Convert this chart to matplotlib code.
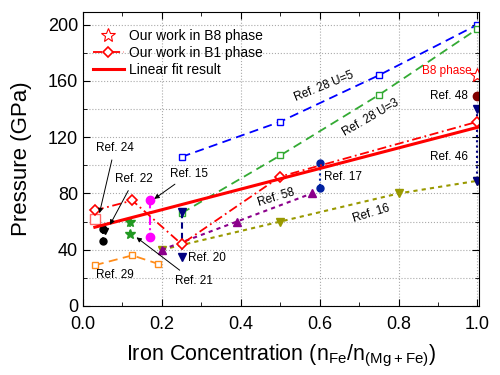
import matplotlib
matplotlib.use("Agg")
import matplotlib.pyplot as plt
from matplotlib.ticker import MultipleLocator

plt.rcParams['font.family'] = ['Liberation Sans', 'DejaVu Sans']
plt.rcParams['mathtext.fontset'] = 'custom'
plt.rcParams['mathtext.rm'] = 'Liberation Sans'

# ---- data ----
ref28u5_x = [0.25, 0.5, 0.75, 1.0]
ref28u5_y = [106, 131, 164, 200]
ref28u3_x = [0.25, 0.5, 0.75, 1.0]
ref28u3_y = [66, 107, 150, 197]
fit_x = [0.03, 1.0]
fit_y = [56, 127]
b1_x = [0.03, 0.125, 0.25, 0.5, 1.0]
b1_y = [68, 75, 44, 92, 131]
b8_x = [1.0]
b8_y = [164]
ref48_x = [1.0]
ref48_y = [149]
ref46_x = [1.0, 1.0]
ref46_y = [140, 89]
ref17_x = [0.6, 0.6]
ref17_y = [102, 84]
ref58_x = [0.2, 0.39, 0.58]
ref58_y = [40, 60, 80]
ref16_x = [0.2, 0.5, 0.8, 1.0]
ref16_y = [40, 60, 80, 89]
ref20_x = [0.25, 0.25]
ref20_y = [67, 35]
ref15_x = [0.17, 0.17]
ref15_y = [75, 49]
ref21_x = [0.12, 0.12]
ref21_y = [60, 51]
ref22_x = [0.05, 0.05]
ref22_y = [55, 46]
ref22b_x = [0.055]
ref22b_y = [53]
ref24_x = [0.03]
ref24_y = [62]
ref29_x = [0.03, 0.125, 0.19]
ref29_y = [29, 36, 30]

fig = plt.figure(figsize=(5, 3.75), dpi=100)
ax = fig.add_axes([0.166, 0.184, 0.792, 0.784])

ms = 5
ax.plot(ref28u5_x, ref28u5_y, ls=(0, (5, 3)), color='#0000ff', lw=1.3,
        marker='s', mfc='white', mec='#0000ff', ms=ms)
ax.plot(ref28u3_x, ref28u3_y, ls=(0, (5, 3)), color='#33aa33', lw=1.3,
        marker='s', mfc='white', mec='#33aa33', ms=ms)
ax.plot(ref29_x, ref29_y, ls=(0, (5, 3)), color='#ff8c1a', lw=1.3,
        marker='s', mfc='white', mec='#ff8c1a', ms=ms)
ax.plot(ref24_x, ref24_y, ls='none', marker='s', mfc='white', mec='#ff6666', ms=7)
ax.plot(ref16_x, ref16_y, ls=(0, (2, 2)), color='#999900', lw=1.5,
        marker='v', ms=ms + 1)
ax.plot(ref58_x, ref58_y, ls=(0, (2, 2)), color='#8b008b', lw=1.5,
        marker='^', ms=ms + 1)
ax.plot(ref17_x, ref17_y, ls=(0, (1, 1.5)), color='#0020a0', lw=1.5,
        marker='o', ms=ms)
ax.plot(ref46_x, ref46_y, ls=(0, (1, 1.5)), color='#000080', lw=1.5,
        marker='v', ms=ms + 1)
ax.plot(ref20_x, ref20_y, ls=(0, (3, 2)), color='#000080', lw=1.5,
        marker='v', ms=ms + 1)
ax.plot(ref15_x, ref15_y, ls=(0, (4, 1.5, 1, 1.5)), color='#ff00ff', lw=1.5,
        marker='o', ms=ms + 1)
ax.plot(ref21_x, ref21_y, ls=(0, (3, 2)), color='#229922', lw=1.2,
        marker='*', ms=ms + 2)
ax.plot(ref22_x, ref22_y, ls=(0, (3, 2)), color='black', lw=1.2,
        marker='o', ms=ms)
ax.plot(ref22b_x, ref22b_y, ls='none', color='black', marker='v', ms=ms)
ax.plot(ref48_x, ref48_y, ls='none', marker='o', color='#800000', ms=ms + 1)

ax.plot(b1_x, b1_y, ls=(0, (5, 2, 1, 2)), color='red', lw=1.3,
        marker='D', mfc='white', mec='red', ms=ms, mew=1.2,
        label='Our work in B1 phase')
ax.plot(fit_x, fit_y, ls='-', color='red', lw=2.2, label='Linear fit result')
ax.plot(b8_x, b8_y, ls='none', marker='*', mfc='white', mec='red', ms=10,
        mew=0.8, label='Our work in B8 phase')

ax.set_xlim(0, 1.004)
ax.set_ylim(0, 209)
ax.xaxis.set_major_locator(MultipleLocator(0.2))
ax.xaxis.set_minor_locator(MultipleLocator(0.1))
ax.yaxis.set_major_locator(MultipleLocator(40))
ax.yaxis.set_minor_locator(MultipleLocator(20))
ax.tick_params(which='both', direction='in', top=True, right=True, labelsize=13)
ax.tick_params(which='major', length=5)
ax.tick_params(which='minor', length=3)
ax.tick_params(axis='x', which='major', pad=7)
ax.grid(True, which='major', axis='x', ls=':', color='#aaaaaa', lw=0.8)
ax.grid(True, which='both', axis='y', ls=':', color='#aaaaaa', lw=0.8)
ax.set_axisbelow(True)

ax.set_xlabel(r'Iron Concentration (n$_{\mathrm{Fe}}$/n$_{\mathrm{(Mg+Fe)}}$)',
              fontsize=15.5, labelpad=7)
ax.set_ylabel('Pressure (GPa)', fontsize=16)
ax.yaxis.set_label_coords(-0.13, 0.5)

handles, labels = ax.get_legend_handles_labels()
order = [2, 0, 1]
ax.legend([handles[i] for i in order], [labels[i] for i in order],
          loc='upper left', frameon=False, fontsize=10, handlelength=2.3,
          handletextpad=0.3, borderaxespad=0.0, labelspacing=0.2,
          bbox_to_anchor=(0.01, 0.96))

fs = 8.5
arrow = dict(arrowstyle='-|>', color='black', lw=0.7, mutation_scale=7)
ax.annotate('Ref. 24', xy=(0.04, 64), xytext=(0.08, 112), fontsize=fs,
            ha='center', va='center', arrowprops=arrow)
ax.annotate('Ref. 22', xy=(0.065, 56), xytext=(0.13, 90), fontsize=fs,
            ha='center', va='center', arrowprops=arrow)
ax.annotate('Ref. 15', xy=(0.175, 75), xytext=(0.27, 94), fontsize=fs,
            ha='center', va='center', arrowprops=arrow)
ax.annotate('Ref. 21', xy=(0.13, 50), xytext=(0.28, 18), fontsize=fs,
            ha='center', va='center', arrowprops=arrow)
ax.text(0.265, 34, 'Ref. 20', fontsize=fs, ha='left', va='center')
ax.text(0.08, 22, 'Ref. 29', fontsize=fs, ha='center', va='center')
ax.text(0.61, 92, 'Ref. 17', fontsize=fs, ha='left', va='center')
ax.text(0.975, 106, 'Ref. 46', fontsize=fs, ha='right', va='center')
ax.text(0.975, 149, 'Ref. 48', fontsize=fs, ha='right', va='center')
ax.text(0.985, 167, 'B8 phase', fontsize=fs, ha='right', va='center', color='red')
ax.text(0.61, 156, 'Ref. 28 U=5', fontsize=fs, ha='center', va='center', rotation=22)
ax.text(0.73, 134, 'Ref. 28 U=3', fontsize=fs, ha='center', va='center', rotation=30)
ax.text(0.49, 77, 'Ref. 58', fontsize=fs, ha='center', va='center', rotation=17)
ax.text(0.73, 66, 'Ref. 16', fontsize=fs, ha='center', va='center', rotation=17)

fig.savefig('out.png', dpi=100)
